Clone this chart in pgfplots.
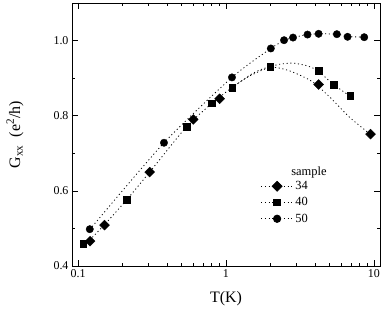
\documentclass[border=0pt]{standalone}
\usepackage{fontspec}
\setmainfont{Liberation Serif}
\usepackage{pgfplots}
\usetikzlibrary{calc}
\pgfplotsset{compat=1.18}
\begin{document}
\begin{tikzpicture}
\begin{axis}[
  name=ax,
  scale only axis,
  width=308bp, height=263bp,
  xmode=log,
  xmin=0.091, xmax=11,
  ymin=0.4, ymax=1.1,
  xtick={0.1,1,10}, xticklabels={0.1,1,10},
  ytick={0.4,0.6,0.8,1.0},
  minor y tick num=1,
  /pgf/number format/assume math mode=true,
  yticklabel style={/pgf/number format/fixed,/pgf/number format/fixed zerofill,/pgf/number format/precision=1},
  tick label style={font=\fontsize{12}{14}\selectfont},
  major tick length=6bp, minor tick length=3.5bp,
  tick style={line width=0.7pt, black},
  axis line style={line width=0.9pt},
  xlabel={T(K)},
  ylabel={G\textsubscript{xx}\ \ (e\textsuperscript{2}/h)},
  label style={font=\fontsize{16}{18}\selectfont},
  xlabel style={at={(axis description cs:0.5,-0.125)}, anchor=center},
  ylabel style={at={(axis description cs:-0.185,0.5)}, anchor=center},
  legend style={at={(axis description cs:0.612,0.33)}, anchor=north west, draw=none, fill=none,
    font=\fontsize{12.5}{14}\selectfont, row sep=2.5bp, inner sep=0pt},
  legend cell align=left,
  legend image code/.code={\draw[mark repeat=2,mark phase=2,#1] plot coordinates {(0bp,0bp) (16bp,0bp) (32bp,0bp)};},
  fit/.style={black, line width=0.8pt, dash pattern=on 1.1pt off 2.7pt, smooth, tension=0.4, no marks},
  mk/.style={only marks, black, mark size=3.5bp},
]
% legend images
\addlegendimage{black, line width=0.8pt, dash pattern=on 1.1pt off 2.7pt, mark=square*, mark size=3.5bp, mark options={solid, rotate=45}}
\addlegendentry{34}
\addlegendimage{black, line width=0.8pt, dash pattern=on 1.1pt off 2.7pt, mark=square*, mark size=3.3bp, mark options={solid}}
\addlegendentry{40}
\addlegendimage{black, line width=0.8pt, dash pattern=on 1.1pt off 2.7pt, mark=*, mark size=3.7bp, mark options={solid}}
\addlegendentry{50}

% fit curves
\addplot[fit, forget plot] coordinates {
(0.115,0.462) (0.151,0.510) (0.214,0.577) (0.305,0.650) (0.542,0.771) (0.804,0.833)
(1.10,0.875) (1.45,0.906) (2.0,0.929) (2.57,0.922) (3.16,0.908) (3.89,0.889)
(5.05,0.849) (6.89,0.795) (9.5,0.750)};
\addplot[fit, forget plot] coordinates {
(1.10,0.875) (1.45,0.908) (1.70,0.922) (2.0,0.931) (2.3,0.937) (2.85,0.940)
(3.6,0.932) (4.23,0.918) (5.3,0.884) (6.9,0.852)};
\addplot[fit, forget plot] coordinates {
(0.12,0.497) (0.381,0.728) (1.098,0.902) (2.01,0.979) (2.47,1.000) (2.84,1.008)
(3.56,1.016) (4.23,1.018) (5.62,1.017) (6.64,1.011) (8.6,1.009)};

% data markers
\addplot[mk, mark=square*, mark size=3.5bp, mark options={rotate=45}, forget plot] coordinates {
(0.1205,0.466) (0.151,0.509) (0.305,0.650) (0.601,0.790) (0.906,0.845) (4.23,0.883) (9.5,0.751)};
\addplot[mk, mark=square*, mark size=3.3bp, forget plot] coordinates {
(0.1086,0.459) (0.214,0.576) (0.542,0.771) (0.804,0.833) (1.10,0.875) (1.99,0.930) (4.23,0.920) (5.37,0.883) (6.92,0.853)};
\addplot[mk, mark=*, mark size=3.7bp, forget plot] coordinates {
(0.12,0.498) (0.381,0.728) (1.098,0.902) (2.01,0.979) (2.47,1.001) (2.84,1.008) (3.56,1.016) (4.23,1.018) (5.62,1.017) (6.64,1.010) (8.6,1.009)};
\end{axis}
\node[font=\fontsize{12.5}{14}\selectfont] at ($(ax.south west)+(237bp,93bp)$) {sample};
\pgfresetboundingbox
\useasboundingbox ($(ax.south west)+(-72bp,-47bp)$) rectangle ($(ax.north east)+(2bp,3bp)$);
\end{tikzpicture}
\end{document}
